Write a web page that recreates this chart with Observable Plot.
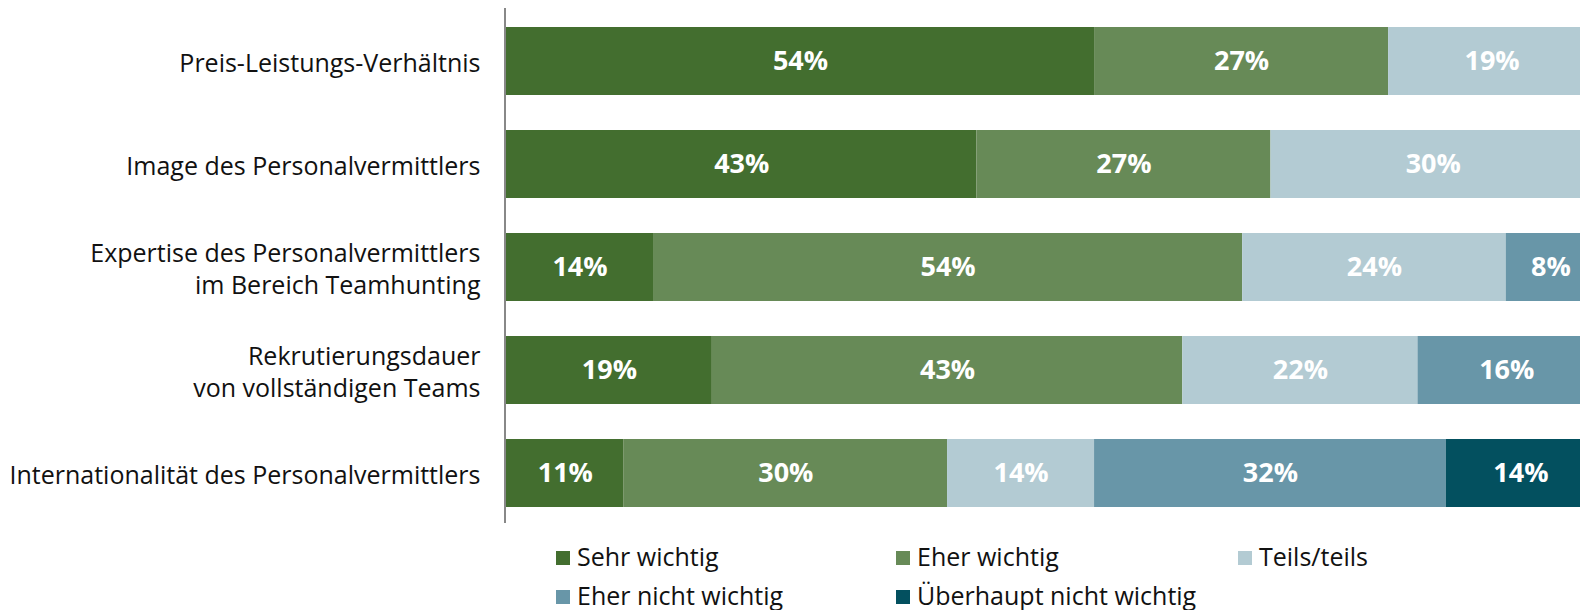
<!DOCTYPE html>
<html>
<head>
<meta charset="utf-8">
<script src="https://cdn.jsdelivr.net/npm/d3@7"></script>
<script src="https://cdn.jsdelivr.net/npm/@observablehq/plot@0.6"></script>
<style>
  html, body { margin: 0; padding: 0; background: #fff; }
  body { width: 1580px; height: 610px; overflow: hidden; font-family: "Open Sans", sans-serif; }
  #legend { position: relative; height: 80px; }
  .item { position: absolute; display: flex; align-items: center; font-size: 25px; color: #111; font-family: "Open Sans", sans-serif; line-height: 1; }
  .sw { width: 14px; height: 14px; margin-right: 7px; margin-top: 2px; }
</style>
</head>
<body>
<div id="chart"></div>
<div id="legend"></div>
<script>
const categories = [
  "Preis-Leistungs-Verhältnis",
  "Image des Personalvermittlers",
  "Expertise des Personalvermittlers\nim Bereich Teamhunting",
  "Rekrutierungsdauer\nvon vollständigen Teams",
  "Internationalität des Personalvermittlers"
];
const series = ["Sehr wichtig", "Eher wichtig", "Teils/teils", "Eher nicht wichtig", "Überhaupt nicht wichtig"];
const colors = ["#436e2f", "#678a57", "#b3cbd3", "#6896a8", "#03505f"];
// values in percent per category (labels show rounded values)
const sehrWichtig        = [54.0, 43.2, 13.5, 18.9, 10.8];
const eherWichtig        = [27.0, 27.0, 54.1, 43.2, 29.7];
const teilsTeils         = [19.0, 29.8, 24.2, 21.6, 13.5];
const eherNichtWichtig   = [0, 0, 8.2, 16.3, 32.3];
const ueberhauptNicht    = [0, 0, 0, 0, 13.7];
const seriesValues = [sehrWichtig, eherWichtig, teilsTeils, eherNichtWichtig, ueberhauptNicht];

const data = [];
categories.forEach((c, i) => {
  series.forEach((s, j) => {
    const v = seriesValues[j][i];
    if (v > 0) data.push({cat: c, series: s, value: v});
  });
});

const chart = Plot.plot({
  width: 1580,
  height: 530,
  marginLeft: 0,
  marginRight: 0,
  marginTop: 8,
  marginBottom: 7,
  x: {domain: [0, 100], range: [506, 1595], axis: null},
  y: {domain: categories, range: [26.5, 506.5], paddingInner: 0.34, paddingOuter: 0, axis: null},
  color: {domain: series, range: colors},
  style: {fontFamily: "'Open Sans', sans-serif", background: "white"},
  marks: [
    Plot.barX(data, Plot.stackX({x: "value", y: "cat", fill: "series", z: "series"})),
    Plot.text(data, Plot.stackX({x: "value", y: "cat", z: "series", text: d => Math.round(d.value) + "%", fill: "white", fontSize: 27, fontWeight: "bold"})),
    Plot.text(categories, {x: 0, y: d => d, text: d => d, textAnchor: "end", dx: -26, fontSize: 25, lineHeight: 1.29, fill: "#111"}),
    Plot.ruleX([0], {stroke: "#888", strokeWidth: 2, dx: -1.5})
  ]
});
document.getElementById("chart").appendChild(chart);

const legend = document.getElementById("legend");
const pos = [[556, 14], [896, 14], [1238, 14], [556, 53], [896, 53]];
series.forEach((s, i) => {
  const it = document.createElement("div");
  it.className = "item";
  it.style.left = pos[i][0] + "px";
  it.style.top = pos[i][1] + "px";
  const sw = document.createElement("span");
  sw.className = "sw";
  sw.style.background = colors[i];
  const t = document.createElement("span");
  t.textContent = s;
  it.appendChild(sw);
  it.appendChild(t);
  legend.appendChild(it);
});
</script>
</body>
</html>
